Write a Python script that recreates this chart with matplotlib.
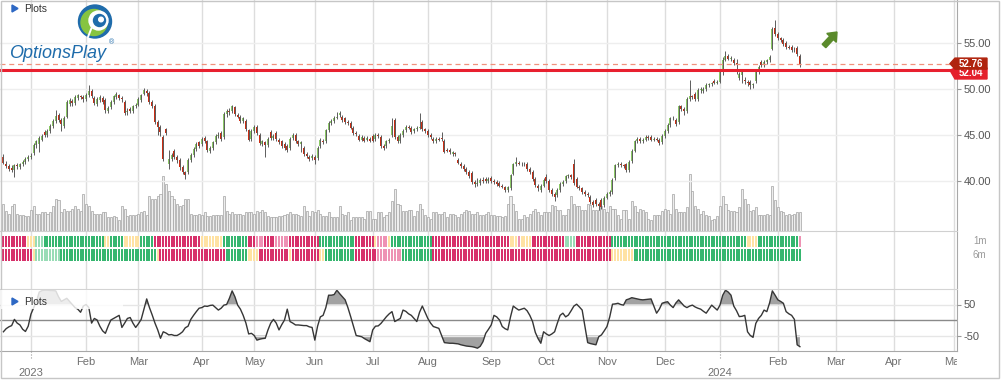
import numpy as np
import pandas as pd
import matplotlib
matplotlib.use("Agg")
import matplotlib.pyplot as plt
from matplotlib.patches import Rectangle, Polygon, Circle, FancyArrow
from matplotlib.transforms import blended_transform_factory

plt.rcParams['font.family'] = ['Liberation Sans', 'DejaVu Sans']

# ---------------- data ----------------
holidays = ["2022-12-26", "2023-01-02", "2023-01-16", "2023-02-20", "2023-04-07",
            "2023-05-29", "2023-06-19", "2023-07-04", "2023-09-04", "2023-11-23",
            "2023-12-25", "2024-01-01", "2024-01-15"]
trade_days = pd.bdate_range("2022-12-16", "2024-02-13", freq="C", holidays=holidays)
future_days = pd.bdate_range("2024-02-14", "2024-05-31")
all_days = trade_days.append(future_days)

opens = [
    42.6, 41.9, 41.6, 41.4, 41.2, 41.7, 41.5, 41.8, 42.1, 42.4,
    42.6, 43.0, 43.9, 44.0, 44.5, 45.3, 45.0, 45.4, 46.0, 46.5,
    47.2, 46.6, 46.0, 47.0, 48.4, 48.7, 48.5, 49.0, 49.2, 49.1,
    48.9, 49.3, 49.8, 49.0, 48.4, 48.8, 49.0, 48.8, 47.6, 48.0,
    48.6, 49.1, 49.3, 49.0, 48.6, 47.5, 47.8, 47.6, 48.1, 48.3,
    48.8, 49.5, 49.8, 49.6, 48.6, 48.2, 46.4, 45.9, 44.8, 45.6,
    41.9, 42.4, 43.3, 42.6, 42.3, 41.5, 41.0, 41.0, 42.3, 42.8,
    43.5, 44.2, 44.0, 44.7, 44.3, 43.3, 43.6, 44.2, 44.9, 45.2,
    44.8, 47.3, 47.6, 47.6, 48.0, 47.2, 47.0, 46.5, 46.5, 45.5,
    44.6, 45.4, 45.9, 45.0, 44.0, 44.2, 43.9, 45.3, 44.7, 45.2,
    44.5, 44.3, 44.0, 43.8, 43.6, 44.7, 45.0, 44.3, 44.0, 43.6,
    42.9, 42.6, 42.5, 42.6, 42.5, 43.8, 44.4, 44.3, 45.5, 46.3,
    46.5, 46.9, 47.2, 47.0, 46.8, 46.4, 46.3, 45.8, 45.2, 44.9,
    44.5, 44.7, 44.5, 44.6, 44.9, 44.6, 45.0, 44.8, 43.8, 43.8,
    44.3, 45.0, 46.6, 44.8, 44.3, 45.0, 45.5, 45.9, 45.8, 45.4,
    45.6, 45.8, 46.4, 45.6, 45.4, 45.0, 44.6, 44.3, 44.6, 44.7,
    44.4, 43.4, 43.4, 42.9, 43.0, 42.3, 41.9, 41.6, 41.3, 41.0,
    40.9, 39.9, 39.7, 39.8, 40.1, 40.2, 40.0, 40.3, 40.0, 39.9,
    39.8, 39.5, 39.3, 39.0, 39.2, 40.8, 41.8, 42.0, 41.9, 41.8,
    41.9, 41.3, 41.0, 40.2, 39.5, 39.0, 39.5, 40.4, 40.0, 39.0,
    38.6, 38.5, 39.0, 39.7, 40.0, 40.5, 40.6, 41.8, 40.2, 39.4,
    39.2, 38.8, 38.6, 38.3, 37.7, 37.9, 37.5, 37.9, 37.4, 38.2,
    38.6, 38.8, 40.3, 41.7, 41.9, 41.7, 41.8, 41.2, 42.2, 43.3,
    44.3, 44.6, 44.3, 44.5, 44.8, 44.8, 44.5, 44.6, 44.5, 44.2,
    44.9, 45.4, 46.1, 46.8, 46.6, 46.4, 48.1, 47.8, 47.6, 48.9,
    49.2, 49.5, 48.9, 49.9, 49.8, 50.0, 50.4, 50.5, 50.9, 50.7,
    50.8, 52.0, 53.2, 53.6, 53.3, 53.2, 52.8, 51.2, 51.5, 51.0,
    50.8, 50.8, 50.4, 50.9, 51.8, 52.9, 52.6, 52.9, 53.1, 54.4,
    56.6, 56.0, 55.5, 55.3, 55.0, 54.6, 54.6, 54.3, 54.5, 53.6,
]
closes = [
    42.0, 41.6, 41.3, 41.2, 41.7, 41.6, 41.8, 42.1, 42.4, 42.6,
    42.7, 43.9, 44.3, 44.7, 44.9, 45.0, 45.4, 46.0, 46.5, 47.1,
    46.6, 46.2, 46.9, 48.6, 48.8, 48.5, 49.1, 49.3, 49.1, 48.9,
    49.4, 49.8, 49.2, 48.5, 48.9, 49.1, 48.6, 47.7, 47.9, 48.6,
    49.2, 49.5, 49.0, 48.9, 47.4, 47.6, 47.6, 48.1, 48.3, 48.9,
    49.3, 49.9, 49.6, 48.6, 48.2, 46.4, 45.9, 45.3, 42.4, 45.2,
    42.4, 42.8, 42.6, 42.3, 41.5, 41.0, 40.7, 42.3, 42.8, 43.5,
    44.0, 43.8, 44.6, 44.3, 43.4, 43.6, 44.2, 44.9, 45.0, 44.6,
    47.3, 47.6, 47.5, 48.1, 47.3, 47.0, 46.5, 46.8, 45.6, 44.5,
    45.4, 45.9, 45.2, 44.1, 44.3, 43.9, 44.6, 44.7, 44.9, 44.6,
    44.2, 43.8, 43.6, 43.4, 44.6, 45.0, 44.3, 44.0, 44.2, 42.9,
    42.7, 42.4, 42.7, 42.3, 43.6, 44.5, 44.2, 45.5, 46.3, 46.5,
    46.9, 47.0, 47.4, 46.6, 46.4, 46.3, 45.8, 45.2, 45.1, 44.5,
    44.8, 44.4, 44.7, 44.4, 44.4, 45.0, 44.9, 43.8, 43.6, 44.3,
    44.5, 46.0, 44.8, 44.3, 45.0, 45.4, 45.9, 45.8, 45.3, 45.6,
    45.8, 45.9, 45.6, 45.4, 45.0, 44.8, 44.3, 44.6, 44.5, 44.6,
    43.2, 43.3, 43.1, 43.1, 42.9, 42.0, 41.6, 41.3, 41.0, 40.5,
    39.9, 39.7, 39.8, 40.1, 40.0, 40.0, 40.2, 40.0, 39.9, 39.7,
    39.5, 39.4, 39.0, 39.3, 40.6, 41.8, 42.1, 41.9, 41.8, 41.9,
    41.3, 41.0, 40.2, 39.6, 39.2, 39.5, 40.1, 40.0, 39.0, 38.6,
    38.3, 39.0, 39.7, 39.9, 40.5, 40.6, 40.4, 39.8, 39.4, 39.2,
    38.8, 38.6, 38.5, 37.7, 37.4, 37.5, 37.3, 37.2, 38.2, 38.6,
    38.8, 40.1, 41.7, 41.9, 41.7, 41.6, 41.2, 42.1, 43.3, 44.3,
    44.6, 44.3, 44.5, 44.8, 44.7, 44.5, 44.6, 44.5, 44.1, 44.9,
    45.4, 46.1, 46.8, 46.9, 46.2, 48.1, 47.8, 47.6, 48.9, 49.2,
    49.1, 48.9, 49.9, 49.9, 50.0, 50.4, 50.5, 50.6, 50.7, 50.8,
    52.0, 53.1, 53.6, 53.3, 53.3, 52.8, 52.7, 51.6, 51.8, 50.9,
    50.6, 50.4, 50.5, 51.8, 52.4, 52.6, 52.9, 53.1, 53.5, 56.5,
    56.0, 55.5, 55.3, 54.9, 54.6, 54.5, 54.2, 54.3, 53.8, 52.76,
]
highs = [
    42.9, 42.2, 41.8, 41.7, 41.9, 42.0, 42.0, 42.3, 42.6, 42.8,
    43.0, 44.1, 44.5, 44.9, 45.1, 45.5, 45.6, 46.2, 46.7, 47.7,
    47.4, 46.8, 47.1, 48.8, 49.0, 48.9, 49.3, 49.5, 49.4, 49.3,
    49.6, 50.4, 50.0, 49.2, 49.1, 49.3, 49.2, 49.0, 48.1, 48.8,
    49.4, 49.7, 49.5, 49.2, 48.8, 47.9, 48.0, 48.3, 48.5, 49.1,
    49.5, 50.1, 50.0, 49.8, 48.8, 48.4, 46.6, 46.1, 45.0, 45.8,
    43.4, 43.0, 43.5, 42.8, 42.5, 41.7, 41.1, 42.5, 43.0, 43.7,
    44.2, 44.4, 44.8, 44.9, 44.5, 43.8, 44.4, 45.1, 45.3, 45.4,
    47.5, 47.8, 47.9, 48.3, 48.2, 47.4, 47.2, 47.0, 46.7, 45.7,
    45.6, 46.1, 46.1, 45.2, 44.5, 44.4, 44.8, 45.5, 45.1, 45.4,
    44.7, 44.5, 44.2, 44.0, 44.8, 45.2, 45.2, 44.5, 44.4, 43.8,
    43.1, 42.8, 42.9, 42.8, 43.8, 44.7, 44.6, 45.7, 46.5, 46.7,
    47.1, 47.5, 47.6, 47.2, 47.0, 46.6, 46.5, 46.0, 45.4, 45.1,
    45.0, 44.9, 44.9, 44.8, 45.1, 45.2, 45.2, 45.0, 44.0, 44.5,
    44.7, 46.8, 46.8, 45.0, 45.2, 45.6, 46.1, 46.1, 46.0, 45.8,
    46.0, 47.4, 46.6, 45.8, 45.6, 45.2, 44.8, 44.8, 44.8, 45.3,
    44.6, 43.6, 43.6, 43.3, 43.2, 42.5, 42.1, 41.8, 41.5, 41.2,
    41.1, 40.1, 40.3, 40.3, 40.4, 40.4, 40.4, 40.5, 40.2, 40.1,
    40.0, 39.7, 39.5, 39.5, 40.8, 42.0, 42.6, 42.2, 42.1, 42.1,
    42.1, 41.5, 41.2, 40.4, 39.7, 39.7, 40.3, 40.8, 40.2, 39.2,
    38.8, 39.2, 39.9, 40.1, 40.7, 40.8, 40.8, 42.4, 40.4, 39.6,
    39.4, 39.0, 38.8, 38.5, 37.9, 38.1, 37.7, 38.1, 38.4, 38.8,
    39.0, 40.3, 41.9, 42.1, 42.1, 41.9, 42.0, 42.3, 43.5, 44.5,
    44.8, 44.8, 44.7, 45.0, 45.0, 45.0, 44.8, 44.8, 44.7, 45.1,
    45.6, 46.3, 47.0, 47.1, 46.8, 48.3, 48.3, 48.0, 49.1, 51.0,
    49.4, 49.7, 50.1, 50.2, 50.2, 50.6, 50.7, 50.8, 51.1, 51.0,
    52.2, 53.5, 54.1, 53.8, 53.6, 53.4, 53.3, 51.8, 52.0, 51.3,
    51.0, 51.0, 50.7, 52.0, 52.6, 53.1, 53.1, 53.3, 53.7, 56.7,
    57.5, 56.2, 55.7, 55.5, 55.2, 54.8, 54.8, 54.6, 54.7, 53.8,
]
lows = [
    41.8, 41.4, 41.1, 41.0, 40.4, 41.3, 41.3, 41.6, 41.9, 42.2,
    42.4, 42.8, 43.6, 43.2, 44.3, 44.8, 44.8, 45.2, 45.8, 46.3,
    46.4, 45.4, 45.8, 46.8, 48.2, 48.2, 48.3, 48.8, 48.9, 48.6,
    48.7, 49.1, 49.0, 48.3, 48.2, 48.6, 48.4, 47.4, 47.4, 47.8,
    48.4, 48.9, 48.8, 48.6, 47.2, 47.2, 47.4, 47.4, 47.9, 48.1,
    48.6, 49.3, 49.2, 48.4, 47.9, 46.2, 45.0, 44.9, 42.2, 45.0,
    41.3, 42.2, 42.4, 42.0, 41.2, 40.8, 40.2, 40.8, 42.1, 42.6,
    43.3, 43.6, 43.8, 44.1, 43.2, 43.0, 43.4, 44.0, 44.7, 44.4,
    44.6, 47.0, 47.2, 47.4, 47.1, 46.8, 46.3, 46.3, 45.4, 44.3,
    44.4, 45.2, 45.0, 43.9, 43.8, 42.6, 43.7, 44.5, 44.5, 44.4,
    44.0, 43.6, 43.4, 43.2, 43.4, 44.5, 44.1, 43.8, 43.2, 42.7,
    42.5, 42.2, 42.3, 41.8, 42.3, 43.6, 44.0, 44.1, 45.3, 46.1,
    46.3, 46.7, 47.0, 46.4, 46.2, 46.1, 45.6, 45.0, 44.9, 44.3,
    44.3, 44.2, 44.3, 44.2, 44.2, 44.4, 44.7, 43.6, 43.4, 43.6,
    44.1, 44.8, 44.6, 44.1, 44.1, 44.8, 45.3, 45.6, 45.1, 45.2,
    45.4, 45.6, 45.4, 45.2, 44.8, 44.6, 44.1, 44.1, 44.3, 44.4,
    43.0, 43.1, 42.9, 42.7, 42.7, 41.8, 41.4, 41.1, 40.8, 40.3,
    39.7, 39.4, 39.5, 39.6, 39.8, 39.8, 39.8, 39.8, 39.7, 39.5,
    39.3, 39.2, 38.8, 38.8, 39.0, 40.6, 41.6, 41.7, 41.6, 41.6,
    41.1, 40.8, 40.0, 39.4, 38.9, 38.8, 39.3, 39.8, 38.8, 38.4,
    37.8, 38.3, 38.8, 39.5, 39.8, 40.3, 40.2, 39.6, 39.2, 39.0,
    38.6, 38.4, 38.3, 37.5, 37.2, 37.3, 36.9, 37.0, 37.2, 38.0,
    38.4, 38.6, 40.1, 41.5, 41.5, 41.4, 41.0, 41.0, 42.0, 43.1,
    44.1, 44.1, 44.1, 44.3, 44.5, 44.3, 44.3, 44.3, 43.9, 44.0,
    44.7, 45.2, 45.9, 46.6, 46.0, 46.2, 47.6, 47.2, 47.4, 48.7,
    48.9, 48.7, 48.7, 49.6, 49.6, 49.8, 50.2, 50.3, 50.5, 50.5,
    50.6, 51.5, 53.0, 53.1, 53.0, 52.6, 51.6, 51.0, 50.6, 50.5,
    50.3, 50.0, 50.1, 50.7, 51.6, 52.4, 52.4, 52.7, 52.9, 54.2,
    55.8, 55.3, 55.1, 54.7, 54.4, 54.3, 54.0, 54.0, 53.6, 52.4,
]
volumes = [
    11, 8, 7, 10, 11, 7, 6.5, 6.5, 6, 6,
    8.5, 10, 7, 7, 7.5, 7.5, 7, 7.5, 10, 13,
    12.5, 7.5, 9, 8, 8, 9, 10, 9, 8, 15,
    11, 10, 8, 7, 7, 7, 7.5, 7.5, 5.5, 5.5,
    6, 5.5, 4.5, 10, 9, 6, 6.5, 6.5, 6.5, 7,
    7.5, 8, 6.5, 14, 13, 13, 14, 15, 22, 19,
    16, 14, 13, 11, 10, 10.5, 13, 13, 7, 6.5,
    6.5, 7, 6.5, 7.5, 6, 6, 6.5, 6.5, 6.5, 6.5,
    14, 8, 7, 7.5, 7, 7, 7, 6.5, 7.5, 7.5,
    7.5, 7, 8, 7.5, 8.5, 7.5, 6, 5.5, 5.5, 5.5,
    6, 6, 6.5, 7, 7.5, 7, 7, 6.5, 6, 10,
    8, 6, 8, 7.5, 8.5, 7, 6, 6, 7.5, 5.7,
    5.5, 5.5, 10, 7, 6.5, 7.5, 4.5, 5.5, 5.5, 5.5,
    5.5, 5, 8, 8, 4.7, 4.7, 7.5, 7.5, 5.5, 6.5,
    7.5, 12, 17, 11, 10.5, 8, 8, 8.5, 8.5, 6,
    8, 11, 9, 6.5, 5.5, 4.7, 7.5, 7.5, 7, 7,
    7.5, 5.5, 7, 7, 6.5, 5.5, 7, 7.5, 8.5, 8,
    7, 7, 7.5, 6.5, 6.5, 7, 7.5, 6.5, 6.5, 6,
    6, 5.5, 6, 11, 14, 11, 8, 4.7, 4.7, 6.5,
    5.5, 7, 8, 9, 7.5, 6.5, 7.5, 7.5, 7.5, 10.5,
    10, 8.5, 8.5, 6.5, 6.5, 9, 14, 11, 10, 10,
    8.5, 8.5, 11, 10.5, 8.5, 8.5, 8.5, 10, 9, 7.5,
    10, 9, 9, 6.5, 5, 8.5, 8.5, 5, 12, 10,
    7.5, 9, 8.5, 7.5, 5, 4.4, 6.5, 6.5, 6.5, 8,
    9, 8.5, 7, 15, 9, 7.5, 7.5, 7.5, 9.5, 23,
    16, 10, 9, 7, 8, 6.5, 6, 4.4, 5, 6,
    10, 14, 11, 8.5, 8, 8, 7.5, 9.5, 17, 13,
    11, 8, 8.5, 9.5, 6.5, 6.5, 6.5, 7, 6.5, 18,
    12.5, 9.5, 8, 7.5, 6.5, 7, 6.5, 7, 7.5, 7.5,
]
oscillator = [
    -38, -28, -22, -18, 2, -10, -16, -30, -37, -20,
    19, 40, 60, 90, 95, 96, 96, 95, 95, 94,
    75, 60, 65, 70, 60, 50, 40, 35, 25, 45,
    50, 40, -10, 5, 0, -20, -35, -43, -20, 0,
    5, 10, 15, -24, -10, 5, 8, -10, -24, -12,
    2, 35, 68, 40, 16, -10, -32, -59, -38, -42,
    -48, -47, -50, -50, -45, -38, -25, -20, 2, 15,
    27, 38, 40, 45, 44, 47, 48, 40, 32, 38,
    48, 50, 70, 94, 75, 48, 35, 15, -10, -45,
    -43, -50, -65, -62, -60, -59, -32, -10, 2, -10,
    -32, -15, 0, 35, -5, -10, -16, -16, -17, -18,
    -18, -22, -24, -65, -20, 10, 15, 40, 80, 80,
    82, 96, 85, 75, 65, 40, 11, -20, -50, -52,
    -54, -60, -65, -70, -32, -20, -19, -11, 0, 11,
    20, 27, -5, 0, 5, 32, 28, 20, 15, 5,
    -5, 25, 45, 25, 5, -10, -21, -24, -27, -50,
    -73, -74, -75, -75, -76, -77, -80, -82, -84, -85,
    -86, -88, -91, -85, -70, -43, -30, -16, 15, 10,
    0, -21, -28, -32, 10, 45, 38, 32, 35, 38,
    30, 15, -5, -40, -60, -75, -38, -45, -50, -45,
    -38, -10, 15, 22, 10, 16, 30, 45, 51, 42,
    32, -21, -73, -76, -78, -80, -54, -48, -35, -21,
    10, 51, 52, 54, 50, 48, 65, 68, 72, 70,
    68, 66, 65, 66, 67, 68, 45, 22, 35, 54,
    57, 59, 48, 40, 55, 65, 55, 45, 40, 45,
    48, 42, 38, 35, 28, 22, 35, 48, 40, 32,
    48, 80, 96, 90, 80, 45, 30, 11, 12, 15,
    -38, -50, -56, -11, 5, 15, 32, 27, 55, 94,
    80, 65, 60, 54, 27, 20, 15, 2, -80, -86,
]
strip_1m = [("R", 9), ("Y", 3), ("g", 3), ("G", 22), ("Y", 2), ("G", 5), ("Y", 6),
            ("G", 5), ("R", 17), ("Y", 8), ("G", 9), ("R", 3), ("r", 3), ("R", 4),
            ("r", 5), ("R", 11), ("G", 13), ("R", 7), ("Y", 1), ("r", 4), ("Y", 1),
            ("G", 15), ("R", 28), ("Y", 3), ("r", 1), ("Y", 4), ("R", 12), ("g", 4),
            ("R", 13), ("G", 49), ("Y", 4), ("G", 15), ("r", 1)]
strip_6m = [("R", 11), ("Y", 1), ("g", 9), ("G", 35), ("Y", 1), ("R", 24), ("G", 8),
            ("Y", 4), ("R", 11), ("Y", 1), ("R", 10), ("Y", 2), ("G", 11), ("R", 8),
            ("r", 9), ("G", 11), ("R", 65), ("Y", 8), ("G", 61)]
strip_colors = {"R": "#d7306a", "r": "#ee92b4", "Y": "#ffe2a3", "G": "#35b66f", "g": "#98dcb6"}
price_ticks = [40, 45, 50, 55]
last_price = 52.76
support_price = 52.04

# ---------------- layout ----------------
W, H = 1002, 380
PW = 957
fig = plt.figure(figsize=(W / 100, H / 100), dpi=100)


def rect(top, bottom, left=0, right=PW):
    return [left / W, 1 - bottom / H, (right - left) / W, (bottom - top) / H]


x = np.arange(len(closes))
XL = (-1.23, 346.0)

month_pos, month_lab, year_pos, year_lab = [], [], [], []
for k in range(1, len(all_days)):
    if all_days[k].month != all_days[k - 1].month:
        if all_days[k].month == 1:
            year_pos.append(k)
            year_lab.append(str(all_days[k].year))
        else:
            month_pos.append(k)
            month_lab.append(all_days[k].strftime("%b"))
grid_pos = sorted(month_pos + year_pos)

# background grid across all panels
ax_bg = fig.add_axes(rect(0, 351))
ax_bg.set_xlim(*XL)
ax_bg.set_ylim(0, 1)
for p in grid_pos:
    ax_bg.axvline(p, color="#dddddd", lw=1)
ax_bg.set_xticks([])
ax_bg.set_yticks([])
ax_bg.spines["top"].set_visible(False)
ax_bg.spines["left"].set_visible(False)
ax_bg.spines["right"].set_color("#a8a8a8")
ax_bg.spines["bottom"].set_color("#a8a8a8")

# volume (behind candles)
ax_v = fig.add_axes(rect(0, 231))
ax_v.patch.set_visible(False)
ax_v.set_xlim(*XL)
ax_v.set_ylim(0, 93)
ax_v.axis("off")

# price
ax_p = fig.add_axes(rect(0, 231))
ax_p.patch.set_visible(False)
ax_p.set_xlim(*XL)
ax_p.set_ylim(50 - 142 / 9.2, 50 + 89 / 9.2)

tr_v = blended_transform_factory(ax_v.transAxes, ax_p.transData)
for lv in price_ticks:
    ax_v.plot([0, 1], [lv, lv], color="#eeeeee", lw=1, transform=tr_v)
ax_v.bar(x, volumes, width=0.75, color="#ededed", edgecolor="#a3a3a3", linewidth=0.5)

o = np.array(opens)
c = np.array(closes)
up = c >= o
ax_p.vlines(x, lows, highs, color="#5c5c5c", lw=0.7)
ax_p.bar(x, np.maximum(np.abs(c - o), 0.08), bottom=np.minimum(o, c), width=0.72,
         color=np.where(up, "#8cc867", "#cb2e14"), linewidth=0)

ax_p.axhline(last_price, color="#f0907c", lw=0.9, ls=(0, (4, 3)))
ax_p.axhline(support_price, color="#e8202f", lw=2.2)

ax_p.yaxis.tick_right()
ax_p.set_yticks(price_ticks)
ax_p.set_yticklabels([f"{v:.2f}" for v in price_ticks])
ax_p.tick_params(axis="y", length=3, color="#999999", labelcolor="#555555", labelsize=8, pad=2)
ax_p.set_xticks([])
for s in ax_p.spines.values():
    s.set_visible(False)
ax_p.spines["bottom"].set_visible(True)
ax_p.spines["bottom"].set_color("#d0d0d0")

# price tags on the right (the lower one sits partly behind the upper one)
tr_p = blended_transform_factory(ax_p.transAxes, ax_p.transData)


def price_tag(val, col, shift, z):
    h = 0.6
    yc = val + shift
    x0, x1, x2 = 950 / PW, 955 / PW, 987 / PW
    ax_p.add_patch(Polygon([(x0, val), (x1, yc + h), (x2, yc + h), (x2, yc - h), (x1, yc - h)],
                           closed=True, transform=tr_p, color=col, clip_on=False, zorder=z))
    ax_p.text((x1 + x2) / 2, yc, f"{val:.2f}", transform=tr_p, ha="center", va="center",
              color="white", fontsize=7, fontweight="bold", clip_on=False, zorder=z + 0.5)


price_tag(support_price, "#e4202c", -0.35, 10)
price_tag(last_price, "#b0240e", 0.0, 12)

# heat strips
ax_h = fig.add_axes(rect(234, 263))
ax_h.patch.set_visible(False)
ax_h.set_xlim(*XL)
ax_h.set_ylim(0, 29)
ax_h.axis("off")


def expand(runs):
    return [strip_colors[k] for k, n in runs for _ in range(n)]


ax_h.bar(x, 11, bottom=16, width=0.72, color=expand(strip_1m), linewidth=0)
ax_h.bar(x, 12, bottom=2, width=0.72, color=expand(strip_6m), linewidth=0)

# oscillator
ax_o = fig.add_axes(rect(289, 351))
ax_o.patch.set_visible(False)
ax_o.set_xlim(*XL)
ax_o.set_ylim(-100, 100)
osc = np.array(oscillator, dtype=float)
ax_o.axhline(50, color="#e6e6e6", lw=1)
ax_o.axhline(-50, color="#e6e6e6", lw=1)
ax_o.axhline(0, color="#8a8a8a", lw=1)
ax_o.fill_between(x, osc, 50, where=osc > 50, interpolate=True, color="#a2a2a2", lw=0)
ax_o.fill_between(x, osc, -50, where=osc < -50, interpolate=True, color="#a2a2a2", lw=0)
ax_o.plot(x, osc, color="#363636", lw=1)
ax_o.yaxis.tick_right()
ax_o.set_yticks([50, -50])
ax_o.set_yticklabels(["50", "-50"])
ax_o.tick_params(axis="y", length=3, color="#999999", labelcolor="#555555", labelsize=8, pad=2)
ax_o.set_xticks([])
for s in ax_o.spines.values():
    s.set_visible(False)
ax_o.spines["top"].set_visible(True)
ax_o.spines["top"].set_color("#d4d4d4")

# date labels
ax_d = fig.add_axes(rect(351, 380))
ax_d.set_xlim(*XL)
ax_d.set_ylim(29, 0)
ax_d.axis("off")
for p, lab in zip(month_pos, month_lab):
    ax_d.text(p, 11, lab, ha="center", va="center", fontsize=8, color="#707070", clip_on=True)
for p, lab in zip(year_pos, year_lab):
    ax_d.plot([p, p], [0, 7], ls=":", color="#999999", lw=0.8)
    ax_d.text(p, 22, lab, ha="center", va="center", fontsize=8, color="#707070", clip_on=True)

# overlay: frame, logo, legends, arrow
ov = fig.add_axes([0, 0, 1, 1])
ov.set_xlim(0, W)
ov.set_ylim(H, 0)
ov.axis("off")
ov.patch.set_visible(False)
ov.add_patch(Rectangle((0.5, 0.5), 998.5, 377.5, fill=False, edgecolor="#c6c6c6", lw=1))

ov.add_patch(Polygon([(12, 5), (12, 12), (18, 8.5)], color="#2d68c4"))
ov.text(24, 9, "Plots", fontsize=7.5, color="#333333", va="center")

ov.add_patch(Rectangle((1, 290), 122, 19, color="white", alpha=0.82, lw=0))
ov.add_patch(Polygon([(12, 298), (12, 305), (18, 301.5)], color="#2d68c4"))
ov.text(24, 302, "Plots", fontsize=7.5, color="#333333", va="center")

ov.text(973, 241, "1m", fontsize=7, color="#9a9a9a", va="center")
ov.text(973, 255, "6m", fontsize=7, color="#9a9a9a", va="center")

# logo
ov.add_patch(Circle((95, 21.5), 16.5, color="#1f6cab"))
ov.add_patch(Circle((94, 22.5), 13, color="#86c440"))
ov.add_patch(Circle((98.5, 20.5), 9.5, color="white"))
ov.add_patch(Circle((99.5, 20.5), 6, color="#1f6cab"))
ov.add_patch(Circle((101, 19.5), 2.3, color="white"))
ov.plot([91.5, 88], [28, 37], color="white", lw=1.4, solid_capstyle="round")
ov.text(9, 53.5, "OptionsPlay", fontsize=13, style="italic", color="#1f6cab", va="center")
ov.text(109, 43, "\u00ae", fontsize=5, color="#1f6cab", va="center")

# green arrow
ov.add_patch(FancyArrow(824, 46, 13, -14, width=5, head_width=13, head_length=8,
                        length_includes_head=True, color="#5a8a2b"))

fig.savefig("out.png", dpi=100)
